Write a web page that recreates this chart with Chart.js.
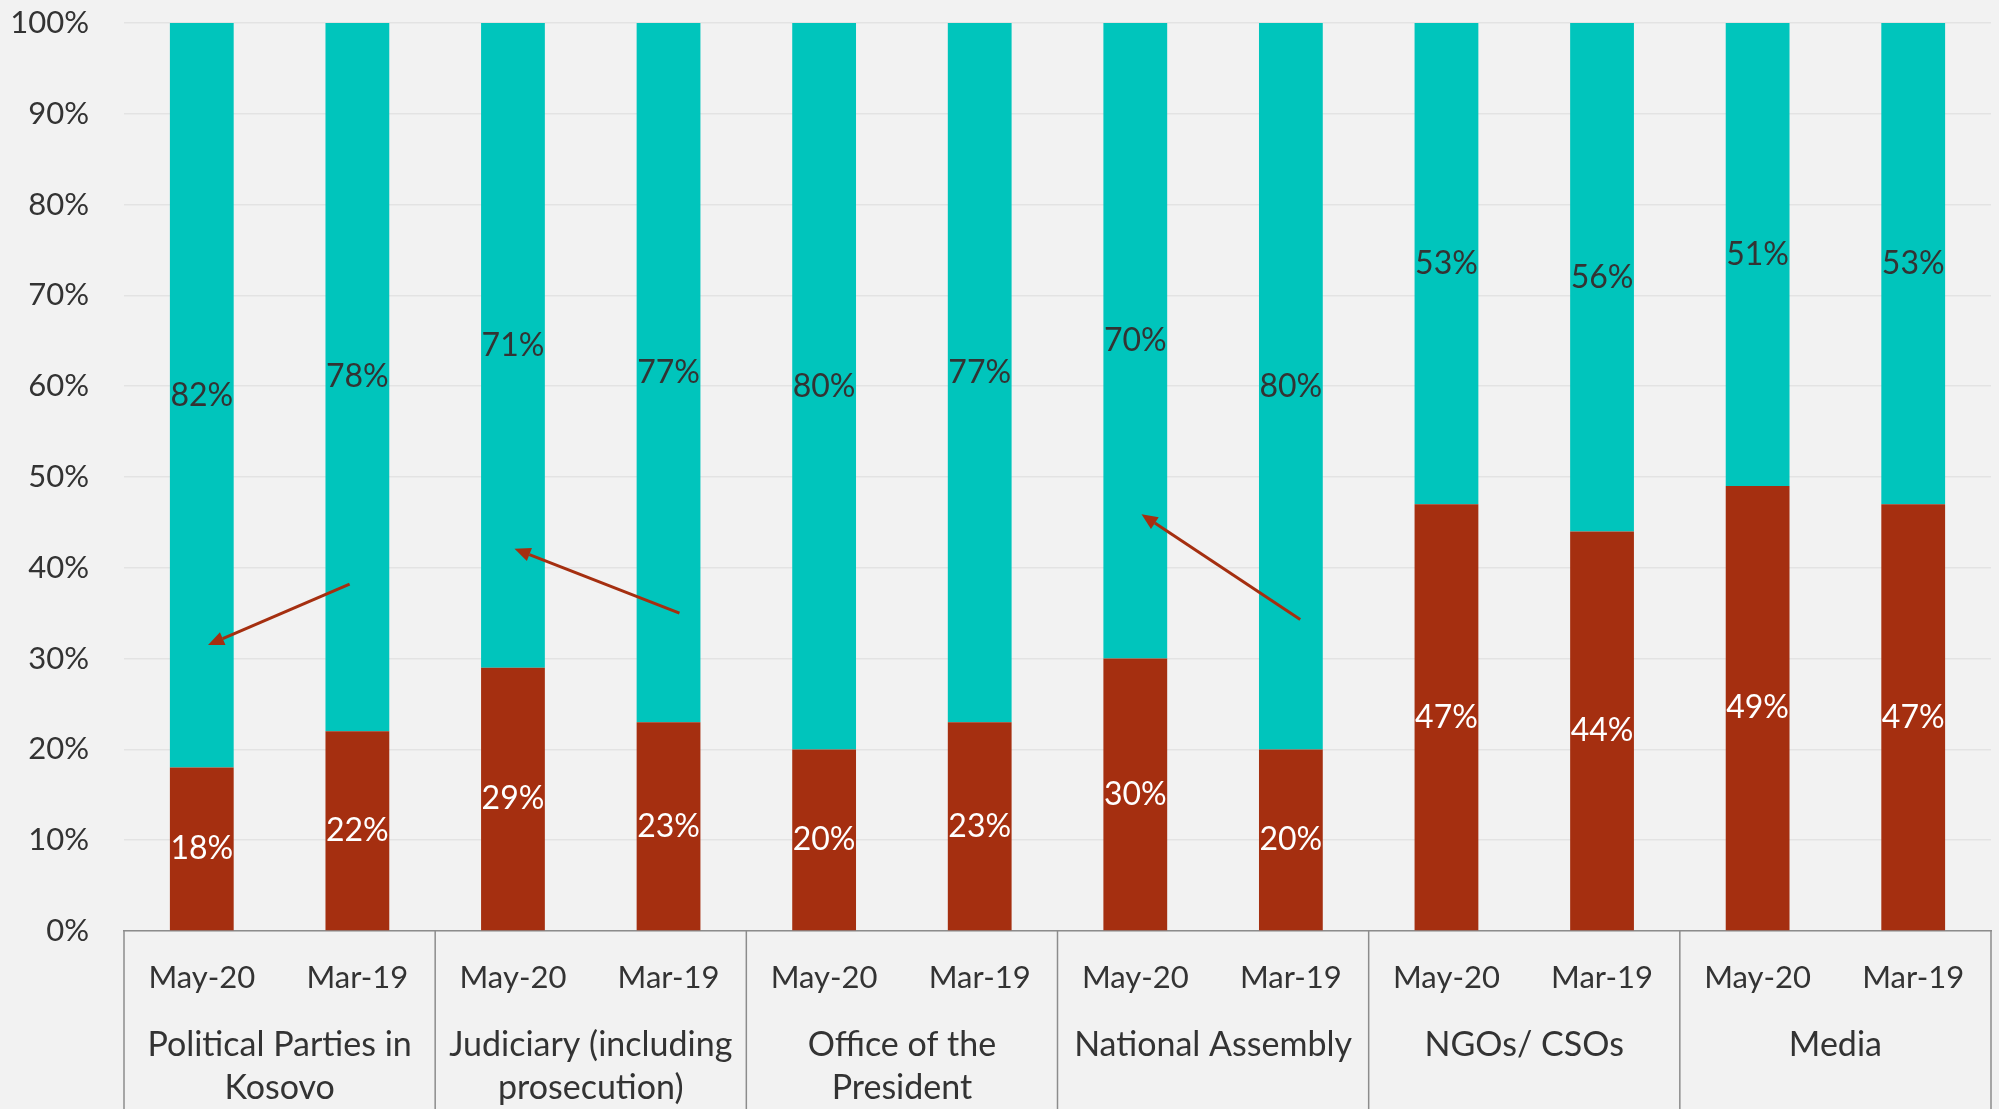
<!DOCTYPE html>
<html>
<head>
<meta charset="utf-8">
<script src="https://cdn.jsdelivr.net/npm/chart.js@4.4.0/dist/chart.umd.min.js"></script>
<style>
  html, body { margin: 0; padding: 0; background: #f2f2f2; }
  #wrap { width: 1999px; height: 1109px; }
</style>
</head>
<body>
<div id="wrap"><canvas id="chart"></canvas></div>
<script>
// survey rounds, one bar each
const periods = ['May-20', 'Mar-19', 'May-20', 'Mar-19', 'May-20', 'Mar-19',
                 'May-20', 'Mar-19', 'May-20', 'Mar-19', 'May-20', 'Mar-19'];

// institution under each pair of bars (already split into lines)
const groups = [
  ['Political Parties in', 'Kosovo'],
  ['Judiciary (including', 'prosecution)'],
  ['Office of the', 'President'],
  ['National Assembly'],
  ['NGOs/ CSOs'],
  ['Media']
];

// share in % - lower (red) and upper (teal) part of each bar
const lowerShare = [18, 22, 29, 23, 20, 23, 30, 20, 47, 44, 49, 47];
const upperShare = [82, 78, 71, 77, 80, 77, 70, 80, 53, 56, 51, 53];

// change arrows, given as [bar index, value %] for tail and head
const arrowFrom = [[0.95, 38.2], [3.07, 35.0], [7.06, 34.3]];
const arrowTo   = [[0.04, 31.5], [2.01, 42.1], [6.04, 45.9]];

const RED = '#a52f10';
const TEAL = '#00c5bc';
const TEXT = '#333333';
const FONT = 'Lato, "DejaVu Sans", sans-serif';

// paint the grey page behind everything
const background = {
  id: 'background',
  beforeDraw(chart) {
    const ctx = chart.ctx;
    ctx.save();
    ctx.fillStyle = '#f2f2f2';
    ctx.fillRect(0, 0, chart.width, chart.height);
    ctx.restore();
  }
};

// percentage written in the middle of each segment
const segmentLabels = {
  id: 'segmentLabels',
  afterDatasetsDraw(chart) {
    const ctx = chart.ctx;
    ctx.save();
    ctx.font = '32px ' + FONT;
    ctx.textAlign = 'center';
    ctx.textBaseline = 'middle';
    chart.data.datasets.forEach((ds, i) => {
      const meta = chart.getDatasetMeta(i);
      ctx.fillStyle = ds.labelColor;
      meta.data.forEach((bar, j) => {
        ctx.fillText(ds.data[j] + '%', bar.x, (bar.y + bar.base) / 2);
      });
    });
    ctx.restore();
  }
};

// arrows between rounds
const arrows = {
  id: 'arrows',
  afterDatasetsDraw(chart) {
    const { ctx, scales: { x, y } } = chart;
    ctx.save();
    ctx.strokeStyle = RED;
    ctx.fillStyle = RED;
    ctx.lineWidth = 3;
    arrowFrom.forEach((from, k) => {
      const to = arrowTo[k];
      const x1 = x.getPixelForValue(from[0]), y1 = y.getPixelForValue(from[1]);
      const x2 = x.getPixelForValue(to[0]), y2 = y.getPixelForValue(to[1]);
      const ang = Math.atan2(y2 - y1, x2 - x1);
      const len = 16, half = 7;
      const bx = x2 - len * Math.cos(ang), by = y2 - len * Math.sin(ang);
      ctx.beginPath();
      ctx.moveTo(x1, y1);
      ctx.lineTo(bx, by);
      ctx.stroke();
      ctx.beginPath();
      ctx.moveTo(x2, y2);
      ctx.lineTo(bx + half * Math.sin(ang), by - half * Math.cos(ang));
      ctx.lineTo(bx - half * Math.sin(ang), by + half * Math.cos(ang));
      ctx.closePath();
      ctx.fill();
    });
    ctx.restore();
  }
};

// boxes and institution names under the period labels
const groupAxis = {
  id: 'groupAxis',
  afterDraw(chart) {
    const ctx = chart.ctx;
    const xs = chart.scales.x;
    const top = xs.top;
    const edges = groups.map((g, k) => k === 0 ? xs.left
      : (xs.getPixelForValue(2 * k - 1) + xs.getPixelForValue(2 * k)) / 2);
    edges.push(xs.right);
    ctx.save();
    ctx.strokeStyle = '#8c8c8c';
    ctx.lineWidth = 1.5;
    edges.forEach(ex => {
      ctx.beginPath();
      ctx.moveTo(ex, top);
      ctx.lineTo(ex, chart.height);
      ctx.stroke();
    });
    ctx.fillStyle = TEXT;
    ctx.font = '34px ' + FONT;
    ctx.textAlign = 'center';
    ctx.textBaseline = 'middle';
    groups.forEach((lines, k) => {
      const cx = (edges[k] + edges[k + 1]) / 2;
      lines.forEach((line, n) => ctx.fillText(line, cx, top + 114 + n * 43));
    });
    ctx.restore();
  }
};

new Chart(document.getElementById('chart'), {
  type: 'bar',
  data: {
    labels: periods,
    datasets: [
      { label: 'Lower', data: lowerShare, backgroundColor: RED, labelColor: '#ffffff' },
      { label: 'Upper', data: upperShare, backgroundColor: TEAL, labelColor: TEXT }
    ]
  },
  options: {
    responsive: true,
    maintainAspectRatio: false,
    animation: false,
    layout: { padding: { top: 23, right: 8, left: 0, bottom: 0 } },
    datasets: { bar: { categoryPercentage: 1, barPercentage: 0.41 } },
    plugins: { legend: { display: false }, tooltip: { enabled: false } },
    scales: {
      x: {
        stacked: true,
        grid: { display: false, drawTicks: false },
        border: { display: true, color: '#8c8c8c', width: 1.5 },
        ticks: { color: TEXT, font: { family: FONT, size: 31 }, padding: 28, maxRotation: 0, autoSkip: false },
        afterFit(s) { s.height = 178; }
      },
      y: {
        stacked: true,
        min: 0,
        max: 100,
        grid: { color: '#e3e3e3', lineWidth: 1.5, drawTicks: false },
        border: { display: false },
        ticks: { stepSize: 10, color: TEXT, font: { family: FONT, size: 31 }, padding: 35,
                 callback: v => v + '%' },
        afterFit(s) { s.width = 124; s.paddingTop = 0; s.paddingBottom = 0; }
      }
    }
  },
  plugins: [background, segmentLabels, arrows, groupAxis]
});
</script>
</body>
</html>
